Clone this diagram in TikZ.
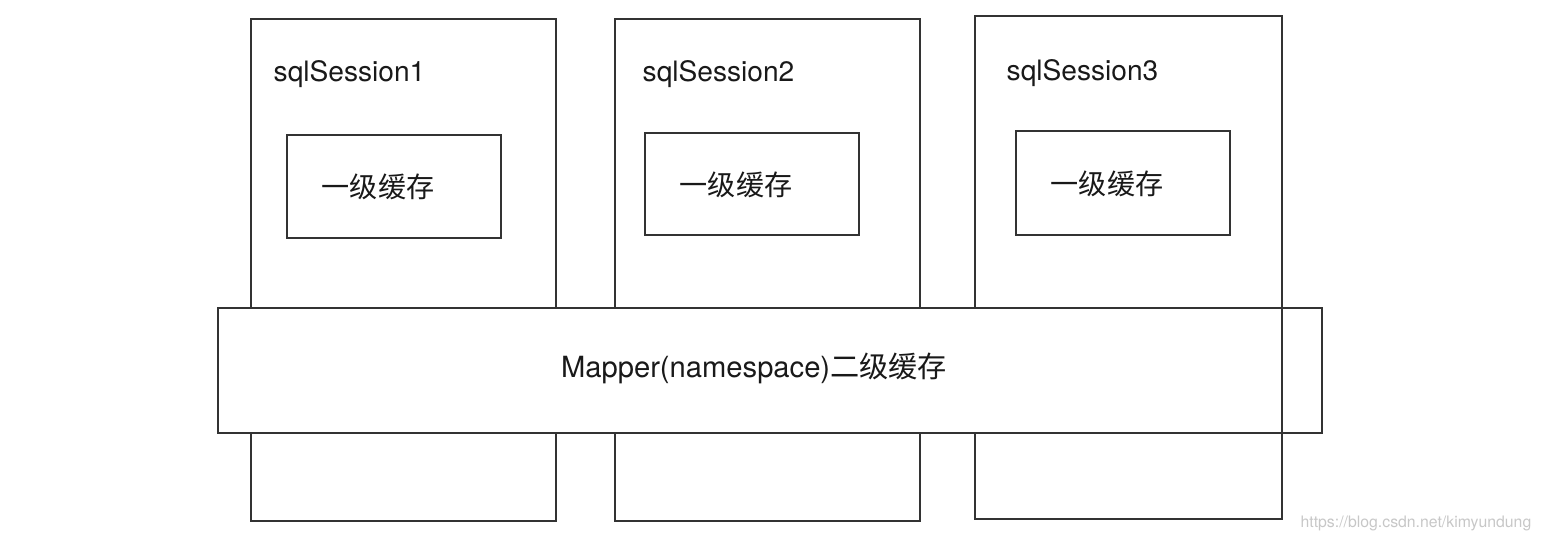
\documentclass[tikz,border=0pt]{standalone}
\usepackage{fontspec}
\setmainfont{TeX Gyre Heros}
\newfontfamily\cjk{Noto Sans CJK SC}
\begin{document}
\begin{tikzpicture}[
    box/.style={draw=black!80, line width=0.6pt, inner sep=0pt, outer sep=0pt},
    session/.style={box, minimum width=3.05cm, minimum height=5.02cm},
    cache/.style={box, minimum width=2.14cm, minimum height=1.03cm},
    txt/.style={font=\fontsize{8}{9.6}\selectfont, text=black!90, inner sep=0pt}
]
    \useasboundingbox (0,0) rectangle (15.41,-5.42);

    % sessions
    \node[session] (s1) at (4.035,-2.70) {};
    \node[session] (s2) at (7.675,-2.70) {};
    \node[session, minimum width=3.07cm, minimum height=5.03cm] (s3) at (11.285,-2.675) {};

    \node[txt, anchor=west] (t1) at (2.73,-0.74) {sqlSession1};
    \node[txt, anchor=west] (t2) at (6.42,-0.74) {sqlSession2};
    \node[txt, anchor=west] (t3) at (10.06,-0.73) {sqlSession3};

    % first level caches
    \node[cache] (c1) at (3.94,-1.865) {};
    \node[cache, minimum height=1.02cm] (c2) at (7.52,-1.84) {};
    \node[cache, minimum height=1.04cm] (c3) at (11.23,-1.83) {};

    \node[txt] (l1) at (3.78,-1.87) {\cjk 一级缓存};
    \node[txt] (l2) at (7.36,-1.85) {\cjk 一级缓存};
    \node[txt] (l3) at (11.07,-1.84) {\cjk 一级缓存};

    % second level cache
    \node[box, fill=white, minimum width=11.04cm, minimum height=1.25cm] (m) at (7.70,-3.705) {};
    \node[txt, font=\fontsize{8.3}{10}\selectfont] (ml) at (7.54,-3.68) {Mapper(namespace){\cjk 二级缓存}};

    \draw[black!80, line width=0.6pt] (s3.north east) -- (s3.south east);

    \node[anchor=east, inner sep=0pt, text=black!22, font=\fontsize{4.5}{5}\selectfont] (wm) at (15.32,-5.23) {https://blog.csdn.net/kimyundung};
\end{tikzpicture}
\end{document}
